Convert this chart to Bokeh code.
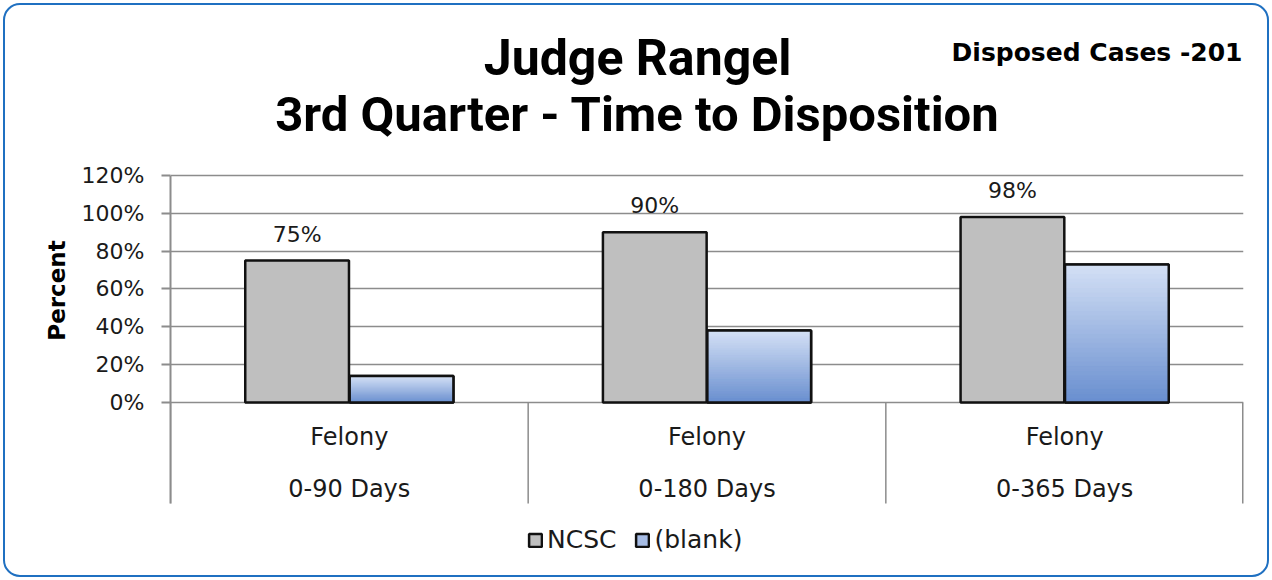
from bokeh.plotting import figure
from bokeh.models import (FactorRange, Range1d, FixedTicker, PrintfTickFormatter,
                          ColumnDataSource, Label, Legend, LegendItem)
from bokeh.transform import dodge
from bokeh.core.properties import value
from bokeh.embed import file_html
from bokeh.resources import INLINE

# ---- data ----
categories = ["0-90 Days", "0-180 Days", "0-365 Days"]
case_type = ["Felony", "Felony", "Felony"]
ncsc = [75, 90, 98]
blank = [14, 38, 73]
y_ticks = [0, 20, 40, 60, 80, 100, 120]
series_names = ["NCSC", "(blank)"]
title_line1 = "Judge Rangel"
title_line2 = "3rd Quarter - Time to Disposition"
subtitle = "Disposed Cases -201"
y_label = "Percent"

# ---- style ----
Y_AXIS_TOP = 120
Y_SEP_BOTTOM = -53.4
OFF = 0.146
BW = 0.29
GRID = "#8c8c8c"
TXT = "#1a1a1a"
FONT = "DejaVu Sans"

p = figure(width=1272, height=580,
           x_range=FactorRange(factors=categories, range_padding=0),
           y_range=Range1d(-94.1, 212.5),
           output_backend="svg", toolbar_location=None,
           min_border_left=170, min_border_right=29,
           min_border_top=0, min_border_bottom=0)
p.outline_line_color = None
p.background_fill_alpha = 0
p.border_fill_alpha = 0
p.styles = {"outline": "2px solid #1f70c1", "outline-offset": "-5px",
            "border-radius": "20px"}

p.xaxis.visible = False
p.xgrid.grid_line_color = None
p.ygrid.ticker = FixedTicker(ticks=y_ticks)
p.ygrid.grid_line_color = GRID
p.ygrid.grid_line_width = 1.5

ya = p.yaxis[0]
ya.ticker = FixedTicker(ticks=y_ticks)
ya.bounds = (Y_SEP_BOTTOM, Y_AXIS_TOP)
ya.formatter = PrintfTickFormatter(format="%d%%")
ya.minor_tick_line_color = None
ya.axis_line_color = GRID
ya.axis_line_width = 2
ya.major_tick_line_color = GRID
ya.major_tick_line_width = 2
ya.major_tick_out = 9
ya.major_tick_in = 0
ya.major_label_standoff = 17
ya.major_label_text_font = FONT
ya.major_label_text_font_size = "22px"
ya.major_label_text_color = TXT
ya.axis_label = y_label
ya.axis_label_standoff = 9
ya.axis_label_text_font = FONT
ya.axis_label_text_font_style = "bold"
ya.axis_label_text_font_size = "23px"
ya.axis_label_text_color = "black"

src = ColumnDataSource(dict(cat=categories, kind=case_type, ncsc=ncsc, blank=blank,
                            ncsc_label=[f"{v}%" for v in ncsc]))

# category separators
sep = ColumnDataSource(dict(cat=categories, y0=[0] * len(categories),
                            y1=[Y_SEP_BOTTOM] * len(categories)))
p.segment(x0=dodge("cat", -0.5, range=p.x_range), y0="y0",
          x1=dodge("cat", -0.5, range=p.x_range), y1="y1",
          source=sep, line_color=GRID, line_width=1.5)
sep_end = ColumnDataSource(dict(cat=categories[-1:], y0=[0], y1=[Y_SEP_BOTTOM]))
p.segment(x0=dodge("cat", 0.5, range=p.x_range), y0="y0",
          x1=dodge("cat", 0.5, range=p.x_range), y1="y1",
          source=sep_end, line_color=GRID, line_width=3)

# NCSC bars
r_ncsc = p.vbar(x=dodge("cat", -OFF, range=p.x_range), top="ncsc", width=BW,
                source=src, fill_color="#bfbfbf", line_color="#111111", line_width=2.5)

# (blank) bars with vertical gradient
r_blank = p.vbar(x=dodge("cat", OFF, range=p.x_range), top="blank", width=BW,
                 source=src, fill_color="#a7bde6", line_color="#111111", line_width=2.5)
n = 30
c_bot = (104, 142, 207)
c_top = (212, 224, 245)
g_cat, g_bot, g_top, g_col = [], [], [], []
for c, v in zip(categories, blank):
    for k in range(n):
        t = (k + 0.5) / n
        col = tuple(int(round(a + (b - a) * t)) for a, b in zip(c_bot, c_top))
        g_cat.append(c)
        g_bot.append(v * k / n)
        g_top.append(v * (k + 1) / n)
        g_col.append("#%02x%02x%02x" % col)
gsrc = ColumnDataSource(dict(cat=g_cat, bottom=g_bot, top=g_top, color=g_col))
p.vbar(x=dodge("cat", OFF, range=p.x_range), bottom="bottom", top="top", width=BW,
       source=gsrc, fill_color="color", line_color="color", line_width=1)
p.vbar(x=dodge("cat", OFF, range=p.x_range), top="blank", width=BW,
       source=src, fill_color=None, line_color="#111111", line_width=2.5)

# value labels
p.text(x=dodge("cat", -OFF, range=p.x_range), y="ncsc", text="ncsc_label", source=src,
       text_align="center", text_baseline="bottom", y_offset=-14,
       text_font=value(FONT), text_font_size="22px", text_color=TXT)

# category labels
p.text(x="cat", y=-18.5, text="kind", source=src, text_align="center",
       text_baseline="middle", text_font=value(FONT), text_font_size="24px",
       text_color=TXT)
p.text(x="cat", y=-45.5, text="cat", source=src, text_align="center",
       text_baseline="middle", text_font=value(FONT), text_font_size="24px",
       text_color=TXT)

# titles
p.add_layout(Label(x=1.306, y=182.0, text=title_line1, text_align="center",
                   text_baseline="alphabetic", text_font="Roboto", text_font_style="bold",
                   text_font_size="50px", text_color="black"))
p.add_layout(Label(x=1.306, y=152.0, text=title_line2, text_align="center",
                   text_baseline="alphabetic", text_font="Roboto", text_font_style="bold",
                   text_font_size="49px", text_color="black"))
p.add_layout(Label(x=3.0, y=185.0, x_offset=-1, text=subtitle, text_align="right",
                   text_baseline="alphabetic", text_font=FONT, text_font_style="bold",
                   text_font_size="25px", text_color="black"))

legend = Legend(items=[LegendItem(label=series_names[0], renderers=[r_ncsc]),
                       LegendItem(label=series_names[1], renderers=[r_blank])],
                orientation="horizontal", location=(357, 26),
                border_line_color=None, background_fill_alpha=0,
                label_text_font=FONT, label_text_font_size="25px", label_text_color=TXT,
                glyph_width=16, glyph_height=16, label_standoff=4, spacing=18,
                padding=0, margin=0)
p.add_layout(legend)

open("out.html", "w").write(file_html(p, INLINE))
